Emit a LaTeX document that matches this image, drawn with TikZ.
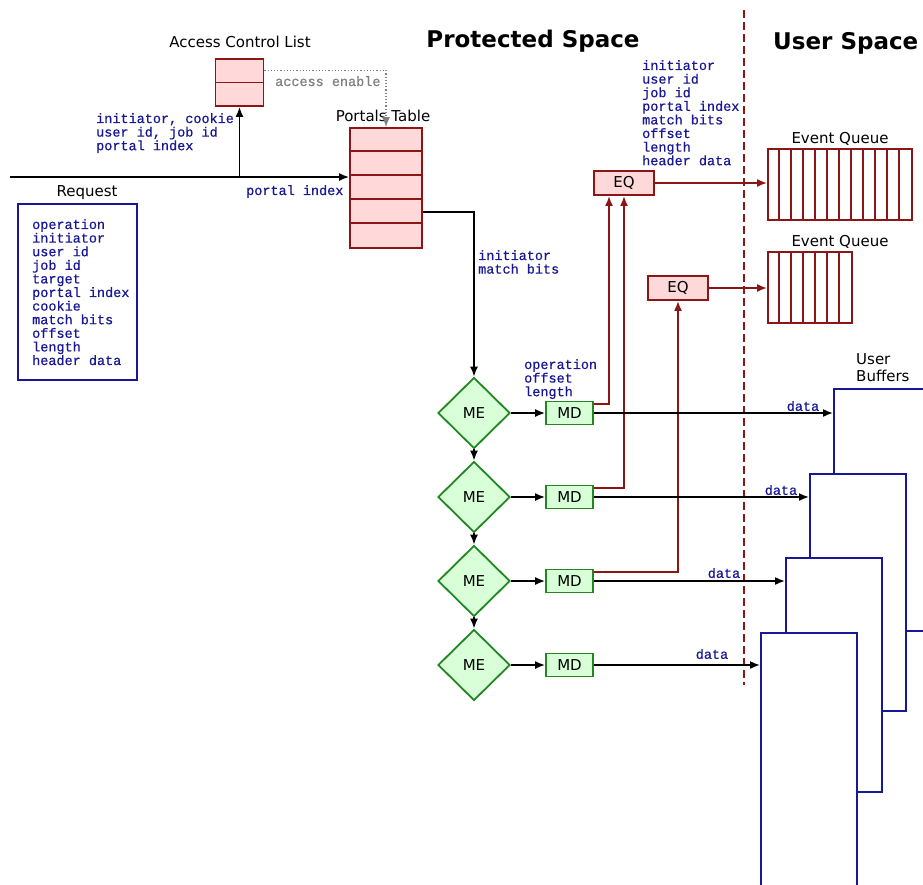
\documentclass[tikz,border=0pt]{standalone}
\usepackage{fontspec}
\setmainfont{DejaVu Sans}
\newfontfamily\mono[FakeBold=0.5]{Liberation Mono}
\usepackage{tikz}
\usetikzlibrary{calc,shapes.geometric,arrows.meta}
\definecolor{dred}{RGB}{140,22,22}
\definecolor{pinkf}{RGB}{255,217,217}
\definecolor{dgreen}{RGB}{34,135,34}
\definecolor{greenf}{RGB}{217,255,217}
\definecolor{navy}{RGB}{24,24,150}
\begin{document}
\begin{tikzpicture}[x=1pt,y=-1pt,>={Latex[length=10pt,width=8pt]},
  redbox/.style={draw=dred,fill=pinkf,line width=1.8pt,inner sep=0,font=\fontsize{15}{17}\selectfont},
  mebox/.style={diamond,aspect=1,draw=dgreen,fill=greenf,line width=1.8pt,inner sep=0,minimum width=72pt,minimum height=71pt,font=\fontsize{15}{17}\selectfont},
  mdbox/.style={draw=dgreen,fill=greenf,line width=1.8pt,inner sep=0,minimum width=47pt,minimum height=23pt,font=\fontsize{15}{17}\selectfont},
  qbox/.style={draw=dred,fill=white,line width=1.8pt,inner sep=0,minimum height=71pt},
  buf/.style={draw=navy,fill=white,line width=1.8pt,inner sep=0,anchor=north west,minimum width=96pt},
  txt/.style={text=navy,font=\mono\fontsize{13.5}{13.6}\selectfont,align=left,inner sep=0,anchor=north west},
  lbl/.style={font=\fontsize{15}{17}\selectfont,inner sep=0},
  ttl/.style={font=\bfseries\fontsize{23}{26}\selectfont,inner sep=0},
  line/.style={line width=1.6pt},
  redline/.style={draw=dred,line width=1.8pt}]
\useasboundingbox (0,0) rectangle (923,884);
\clip (0,0) rectangle (923,884);
\fill[white] (0,0) rectangle (923,884);

\node[ttl] (prot) at (533,41) {Protected Space};
\node[ttl,anchor=west] (user) at (773,43) {User Space};
\coordinate (dtop) at (744,10);\coordinate (dbot) at (744,685);
\draw[dred,line width=1.8pt,dash pattern=on 8pt off 4pt] (dtop)--(dbot);

% access control list and portals table
\node[redbox,minimum width=48pt,minimum height=47pt] (acl) at (239.5,82.5) {};
\draw[redline] (acl.west)--(acl.east);
\node[lbl] (acllbl) at (240,42) {Access Control List};
\node[redbox,minimum width=72pt,minimum height=120pt] (pt) at (386,188) {};
\foreach \k in {1,...,4} \draw[redline] ($(pt.north west)+(0,24*\k)$)--++(72,0);
\node[lbl] (ptlbl) at (383,116) {Portals Table};
\draw[gray,dotted,line width=1.2pt,->] ($(acl.north east)+(0,12)$) -| (pt.north);
\node[txt,text=gray] (acctxt) at (275,76) {access enable};

% request
\node[draw=navy,line width=1.8pt,minimum width=119pt,minimum height=176pt] (req) at (77.5,292) {};
\node[txt] (reqtxt) at (32,219)
  {operation\\initiator\\user id\\job id\\target\\portal index\\cookie\\match bits\\offset\\length\\header data};
\node[lbl] (reqlbl) at (87,193) {Request};
\coordinate (src) at (10,177);
\coordinate (fork) at (acl.south|-src);
\draw[line,->] (src)--(src-|pt.west);
\draw[line,->] (fork)--(acl.south);
\node[txt] (acltxt) at (96,113) {initiator, cookie\\user id, job id\\portal index};
\node[txt] (pitxt) at (246,185) {portal index};

% event queues
\node[qbox,minimum width=144pt] (evq1) at (840,184.5) {};
\foreach \k in {1,...,11} \draw[redline] ($(evq1.north west)+(12*\k,0)$)--++(0,71);
\node[lbl] (evq1lbl) at (840,139) {Event Queue};
\node[qbox,minimum width=84pt] (evq2) at (810,287.5) {};
\foreach \k in {1,...,6} \draw[redline] ($(evq2.north west)+(12*\k,0)$)--++(0,71);
\node[lbl] (evq2lbl) at (840,242) {Event Queue};
\node[redbox,minimum width=60pt,minimum height=24pt] (eq1) at (624,183) {EQ};
\node[redbox,minimum width=60pt,minimum height=24pt] (eq2) at (678,288) {EQ};
\draw[redline,->] (eq1.east)--(eq1.east-|evq1.west);
\draw[redline,->] (eq2.east)--(eq2.east-|evq2.west);
\node[txt] (eqtxt) at (642,60) {initiator\\user id\\job id\\portal index\\match bits\\offset\\length\\header data};

% match entries and memory descriptors
\foreach \i/\y in {1/413,2/497,3/581,4/665}{
  \node[mebox] (me\i) at (474,\y) {ME};
  \node[mdbox] (md\i) at (569.5,\y) {MD};
  \draw[line,->] (me\i.east)--(md\i.west);
}
\foreach \i/\j in {1/2,2/3,3/4} \draw[line,->] (me\i.south)--(me\j.north);
\draw[line,->] ($(pt.east)+(0,24)$) -| (me1.north);
\node[txt] (mbtxt) at (478,250) {initiator\\match bits};
\node[txt] (optxt) at (524,359) {operation\\offset\\length};
\draw[redline,->] ($(md1.north east)+(0,3)$) -| ($(eq1.south)+(-15,0)$);
\draw[redline,->] ($(md2.north east)+(0,3)$) -| (eq1.south);
\draw[redline,->] ($(md3.north east)+(0,3)$) -| (eq2.south);

% user buffers
\node[buf,minimum height=242pt] (buf1) at (833,388) {};
\node[buf,minimum height=237pt] (buf2) at (809,473) {};
\node[buf,minimum height=234pt] (buf3) at (785,557) {};
\node[buf,minimum height=262pt] (buf4) at (760,632) {};
\node[lbl,align=left,anchor=north west] (buflbl) at (856,353) {User\\Buffers};
\foreach \i/\x/\y in {1/803/406,2/781/490,3/724/573,4/712/654}{
  \draw[line,->] (md\i.east)--(md\i.east-|buf\i.west);
  \node[txt,anchor=center] (data\i) at (\x,\y) {data};
}
\end{tikzpicture}
\end{document}
